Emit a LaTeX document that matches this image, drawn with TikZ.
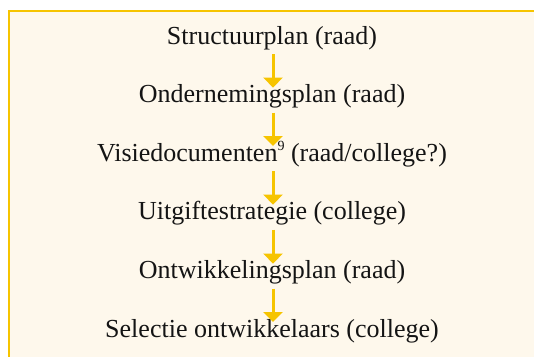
\documentclass[tikz,border=0pt]{standalone}
\usepackage{fontspec}
\setmainfont{Liberation Serif}
\usepackage{xcolor}
\usepackage{tikz}
\usetikzlibrary{arrows.meta}
\definecolor{goud}{HTML}{F6C400}
\definecolor{room}{HTML}{FEF8EC}
\definecolor{inkt}{HTML}{141414}

\begin{document}
\begin{tikzpicture}[x=0.5bp,y=0.5bp,
  stap/.style={anchor=base,inner sep=0pt,text=inkt,font=\fontsize{13bp}{15bp}\selectfont},
  pijl/.style={-{Triangle[width=9.5bp,length=5bp]},line width=1.5bp,goud}]
  \useasboundingbox (0,0) rectangle (534,-356);
  \clip (0,0) rectangle (534,-356);
  \draw[line width=1bp,goud,fill=room] (8.5,-11.2) rectangle (545,-370);

  \node[stap] (s1) at (272,-44)    {Structuurplan (raad)};
  \node[stap] (s2) at (272,-102.6) {Ondernemingsplan (raad)};
  \node[stap] (s3) at (272,-161)   {Visiedocumenten\raisebox{0.42em}{\fontsize{7bp}{8bp}\selectfont 9} (raad/college?)};
  \node[stap] (s4) at (272,-219.6) {Uitgiftestrategie (college)};
  \node[stap] (s5) at (272,-278.6) {Ontwikkelingsplan (raad)};
  \node[stap] (s6) at (272,-337)   {Selectie ontwikkelaars (college)};

  \foreach \a/\b in {s1/s2,s2/s3,s3/s4,s4/s5,s5/s6}
    \draw[pijl] ([xshift=0.5bp,yshift=-5bp]\a.base) -- ([xshift=0.5bp,yshift=7.5bp]\b.base);
\end{tikzpicture}
\end{document}
